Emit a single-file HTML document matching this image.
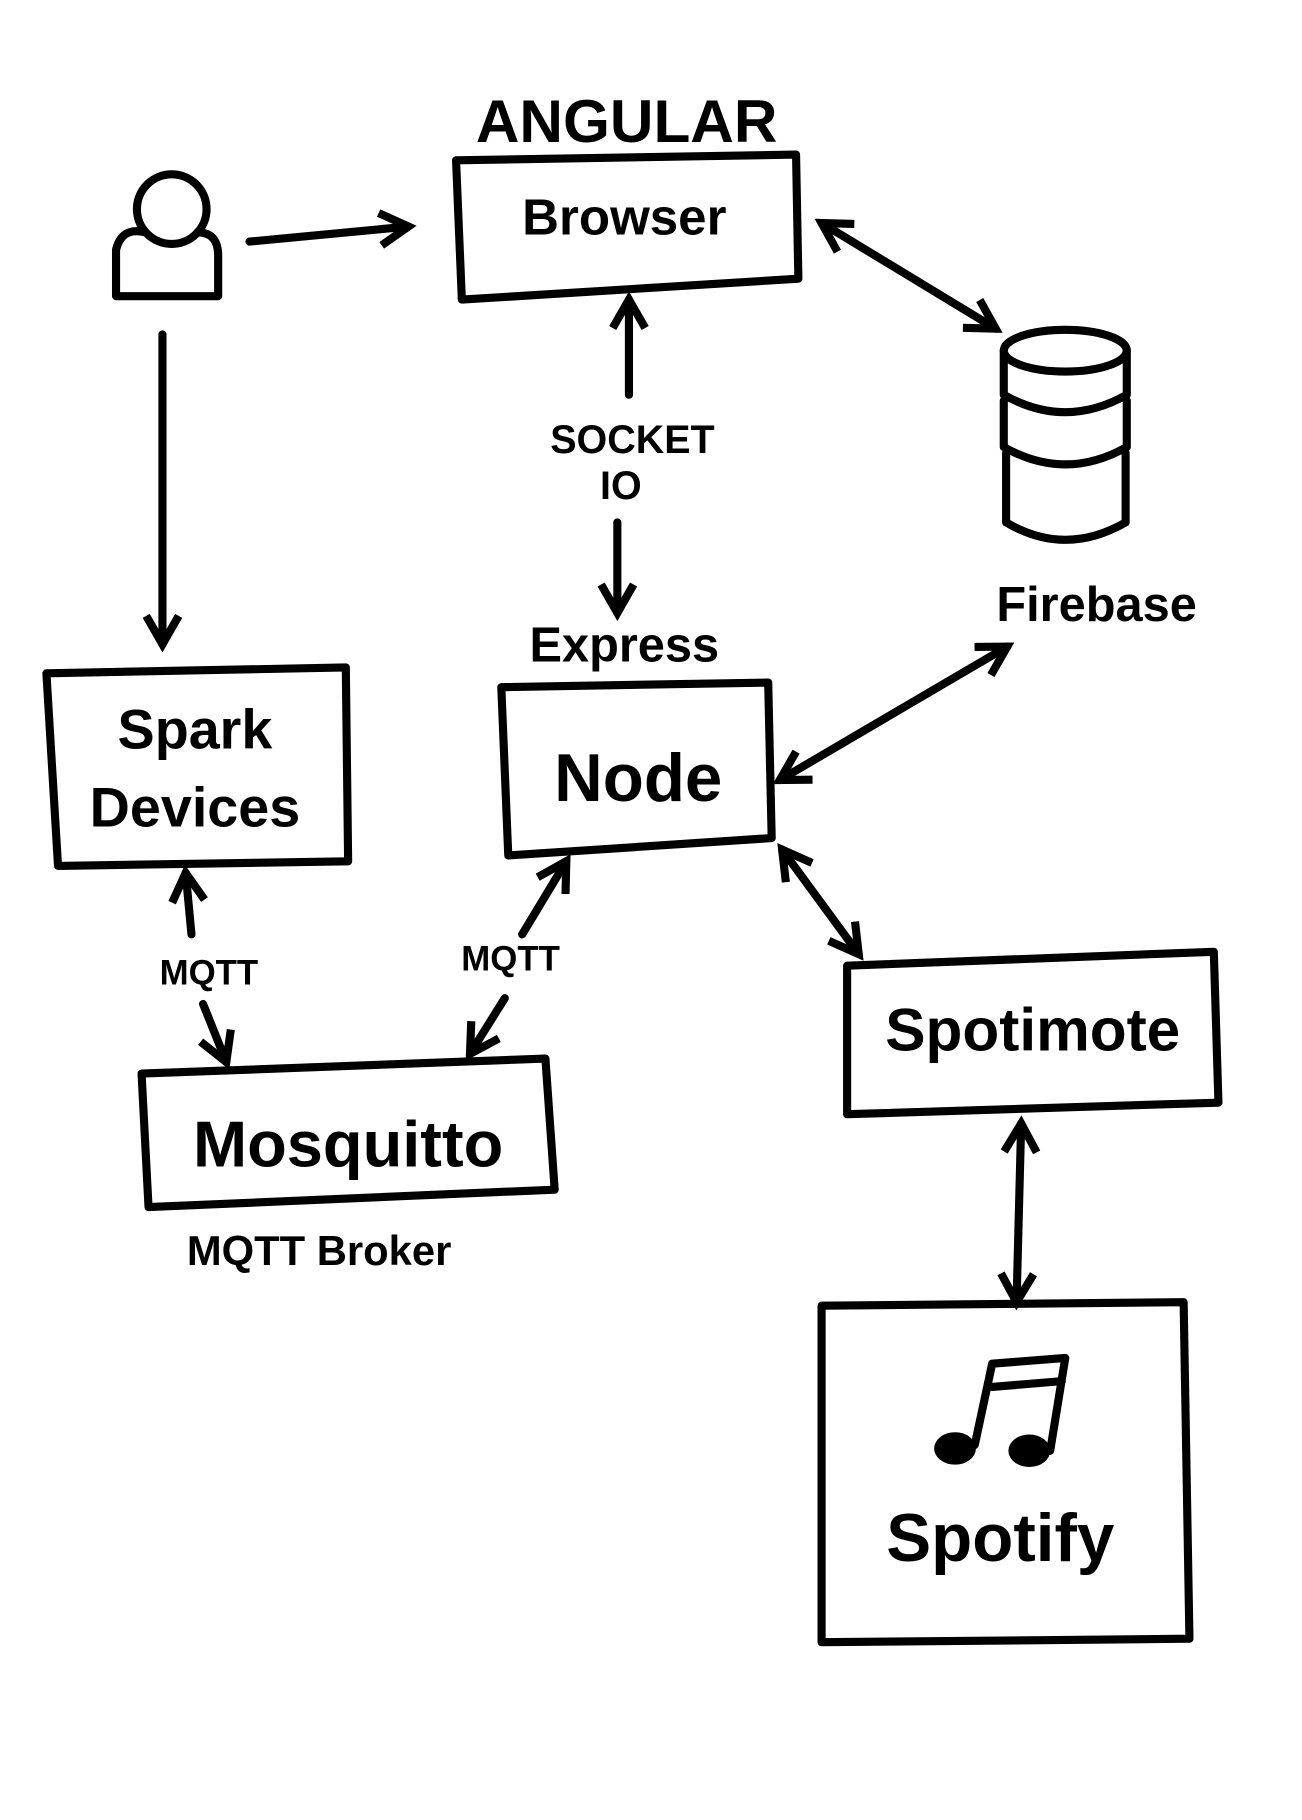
<!DOCTYPE html>
<html><head><meta charset="utf-8"><style>
html,body{margin:0;padding:0;background:#fff;}
svg{display:block;}
text{font-family:"Liberation Sans",sans-serif;fill:#000;}
</style></head><body>
<svg width="1302" height="1820" viewBox="0 0 1122 1568" xmlns="http://www.w3.org/2000/svg">
<defs>
<marker id="a" viewBox="0 0 10 10" refX="8" refY="5" markerWidth="5" markerHeight="5" orient="auto-start-reverse">
<path d="M1,1 L8,5 L1,9" fill="none" stroke="#000" stroke-width="2"/>
</marker>
</defs>
<g fill="none" stroke="#000" stroke-width="7" stroke-linecap="round" stroke-linejoin="round">
<path d="M393,138 L686,133 L688,240 L398,258 Z"/>
<path d="M40,580 L298,575 L300,742 L50,746 Z"/>
<path d="M432,592 L662,588 L665,722 L438,737 Z"/>
<path d="M122,925 L470,912 L478,1025 L128,1040 Z"/>
<path d="M730,832 L1046,820 L1050,950 L730,960 Z"/>
<path d="M708,1125 L1020,1122 L1025,1412 L708,1415 Z"/>
<circle cx="148" cy="180" r="30"/>
<path d="M100,255 L100,215 Q105,195 125,200 M170,200 Q188,200 188,220 L188,255 L100,255"/>
<ellipse cx="918" cy="302" rx="53" ry="18"/>
<path d="M865,302 L865,340 Q918,370 971,340 L971,302"/>
<path d="M865,345 L865,385 Q918,415 971,385 L971,345"/>
<path d="M867,390 L867,450 Q918,480 970,450 L970,390"/>
<line x1="215" y1="208" x2="352" y2="195" marker-end="url(#a)"/>
<line x1="140" y1="288" x2="140" y2="555" marker-end="url(#a)"/>
<line x1="708" y1="192" x2="858" y2="283" marker-end="url(#a)" marker-start="url(#a)"/>
<line x1="542" y1="340" x2="542" y2="258" marker-end="url(#a)"/>
<line x1="532" y1="450" x2="532" y2="528" marker-end="url(#a)"/>
<line x1="672" y1="672" x2="868" y2="557" marker-end="url(#a)" marker-start="url(#a)"/>
<line x1="674" y1="732" x2="740" y2="822" marker-end="url(#a)" marker-start="url(#a)"/>
<line x1="165" y1="805" x2="160" y2="752" marker-end="url(#a)"/>
<line x1="175" y1="865" x2="195" y2="915" marker-end="url(#a)"/>
<line x1="450" y1="805" x2="488" y2="742" marker-end="url(#a)"/>
<line x1="435" y1="860" x2="405" y2="908" marker-end="url(#a)"/>
<line x1="880" y1="968" x2="876" y2="1122" marker-end="url(#a)" marker-start="url(#a)"/>
<path d="M840,1245 L855,1175 L918,1170 L905,1250 M855,1195 L915,1190"/>
</g>
<ellipse cx="823" cy="1248" rx="18" ry="14" fill="#000"/>
<ellipse cx="887" cy="1250" rx="18" ry="14" fill="#000"/>
<text x="540" y="122" font-size="52" font-weight="bold" text-anchor="middle">ANGULAR</text>
<text x="538" y="202" font-size="44" font-weight="bold" text-anchor="middle">Browser</text>
<text x="545" y="390" font-size="34" font-weight="bold" text-anchor="middle">SOCKET</text>
<text x="535" y="430" font-size="34" font-weight="bold" text-anchor="middle">IO</text>
<text x="945" y="535" font-size="42" font-weight="bold" text-anchor="middle">Firebase</text>
<text x="538" y="570" font-size="42" font-weight="bold" text-anchor="middle">Express</text>
<text x="550" y="690" font-size="58" font-weight="bold" text-anchor="middle">Node</text>
<text x="168" y="645" font-size="48" font-weight="bold" text-anchor="middle">Spark</text>
<text x="168" y="712" font-size="48" font-weight="bold" text-anchor="middle">Devices</text>
<text x="180" y="848" font-size="30" font-weight="bold" text-anchor="middle">MQTT</text>
<text x="440" y="836" font-size="30" font-weight="bold" text-anchor="middle">MQTT</text>
<text x="300" y="1005" font-size="56" font-weight="bold" text-anchor="middle">Mosquitto</text>
<text x="275" y="1090" font-size="36" font-weight="bold" text-anchor="middle">MQTT Broker</text>
<text x="890" y="905" font-size="52" font-weight="bold" text-anchor="middle">Spotimote</text>
<text x="862" y="1345" font-size="58" font-weight="bold" text-anchor="middle">Spotify</text>
</svg>
</body></html>
